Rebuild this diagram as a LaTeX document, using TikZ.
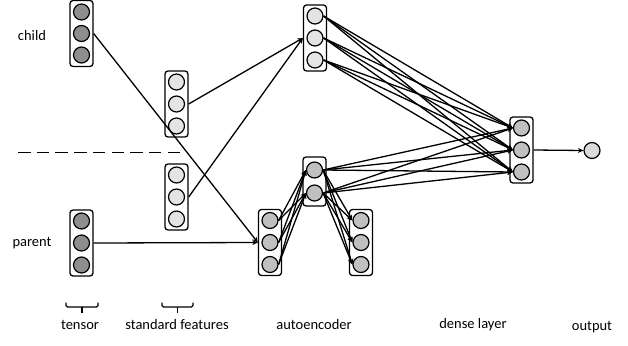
\documentclass[tikz,border=0pt]{standalone}
\usepackage{fontspec}
\setmainfont{Carlito}
\usetikzlibrary{arrows.meta}
\definecolor{fdark}{HTML}{8E8E8E}
\definecolor{fmid}{HTML}{C0C0C0}
\definecolor{flight}{HTML}{E4E4E4}
\definecolor{fout}{HTML}{DADADA}
\begin{document}
\begin{tikzpicture}[x=1pt,y=-1pt,
  colbox/.style={draw, rounded corners=3pt, line width=1.3pt, minimum width=23pt, minimum height=66pt, inner sep=0pt},
  neuron/.style={circle, draw, line width=1.2pt, minimum size=16pt, inner sep=0pt},
  dk/.style={neuron, fill=fdark},
  md/.style={neuron, fill=fmid},
  lt/.style={neuron, fill=flight},
  conn/.style={line width=1.3pt, -{Stealth[length=5.5pt,width=5pt]}},
  plain/.style={line width=1.1pt},
  lbl/.style={font=\fontsize{14.5}{16}\selectfont},
  brace/.style={line width=1.1pt, rounded corners=1.5pt}]
\useasboundingbox (0,0) rectangle (628,345);

% boxes
\node[colbox] (tcb) at (81.5,33.5) {};
\node[colbox] (tpb) at (81.5,243) {};
\node[colbox] (stb) at (176.5,104) {};
\node[colbox] (sbb) at (176.5,197) {};
\node[colbox] (topb) at (315,38) {};
\node[colbox] (alb) at (270,242.5) {};
\node[colbox, minimum height=49pt] (amb) at (314.5,181.5) {};
\node[colbox] (arb) at (361,242.5) {};
\node[colbox] (dnb) at (521.5,150) {};

% neurons
\foreach \i/\y in {1/12,2/33.5,3/55} \node[dk] (tc\i) at (81.5,\y) {};
\foreach \i/\y in {1/221,2/243,3/265} \node[dk] (tp\i) at (81.5,\y) {};
\foreach \i/\y in {1/82,2/104,3/126} \node[lt] (st\i) at (176.5,\y) {};
\foreach \i/\y in {1/175,2/197,3/219} \node[lt] (sb\i) at (176.5,\y) {};
\foreach \i/\y in {1/16,2/38,3/60} \node[lt] (tp\i x) at (315,\y) {};
\foreach \i/\y in {1/220.5,2/242.5,3/264.5} \node[md] (al\i) at (270,\y) {};
\foreach \i/\y in {1/170,2/193} \node[md] (am\i) at (314.5,\y) {};
\foreach \i/\y in {1/220.5,2/242.5,3/264.5} \node[md] (ar\i) at (361,\y) {};
\foreach \i/\y in {1/128,2/150,3/172} \node[md] (dn\i) at (521.5,\y) {};
\node[neuron, fill=fout] (out) at (592,150.5) {};

% connectors
\draw[conn] (tcb.east) -- (alb.west);
\draw[conn] (tpb.east) -- (alb.west);
\draw[conn] (stb.east) -- (topb.west);
\draw[conn] (sbb.east) -- (topb.west);
\foreach \a in {1,2,3} \foreach \b in {1,2,3} \draw[conn] (tp\a x.east) -- (dn\b.west);
\foreach \a in {1,2} \foreach \b in {1,2,3} \draw[conn] (am\a.east) -- (dn\b.west);
\foreach \a in {1,2,3} \foreach \b in {1,2} \draw[conn] (al\a.east) -- (am\b.west);
\foreach \a in {1,2} \foreach \b in {1,2,3} \draw[conn] (am\a.east) -- (ar\b.west);
\draw[conn] (dnb.east) -- (out.west);

% dashed separator
\coordinate (dsa) at (18,152.5);
\coordinate (dsb) at (181,152.5);
\draw[line width=1.5pt, dash pattern=on 12.5pt off 6.2pt] (dsa) -- (dsb);

% side labels
\node[lbl] (lchild) at (32,36) {child};
\node[lbl] (lparent) at (32,243) {parent};

% braces
\draw[brace] (66,302.5) -- (66,307) -- (98,307) -- (98,302.5);
\draw[plain] (82,307) -- (82,313);
\draw[brace] (162,302.5) -- (162,307) -- (193,307) -- (193,302.5);
\draw[plain] (177.5,307) -- (177.5,313);

% bottom labels
\node[lbl] (ltensor) at (80,325) {tensor};
\node[lbl] (lstd) at (177,325) {standard features};
\node[lbl] (lauto) at (314,325) {autoencoder};
\node[lbl] (ldense) at (473,325) {dense layer};
\node[lbl] (lout) at (592,327) {output};
\end{tikzpicture}
\end{document}
